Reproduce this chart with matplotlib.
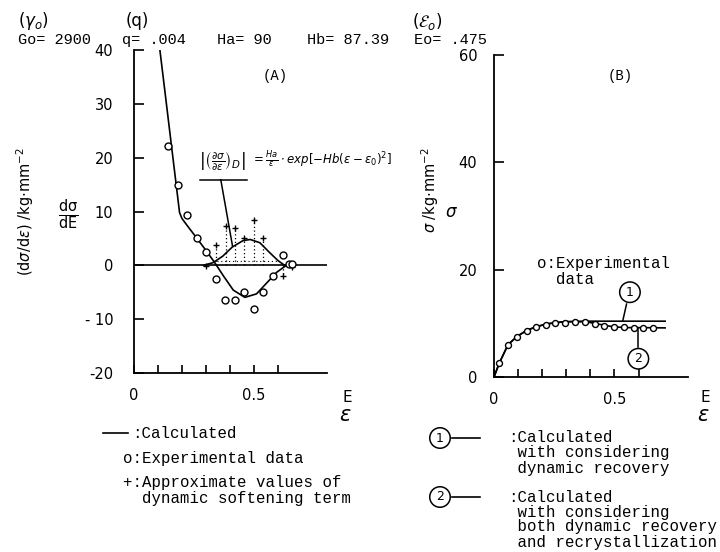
import matplotlib
matplotlib.use('Agg')
import matplotlib.pyplot as plt
from matplotlib.lines import Line2D

# ---------------- Panel A data ----------------
calc_a_x = [0.108, 0.19, 0.20, 0.22, 0.261, 0.303, 0.3375, 0.372, 0.414, 0.4625, 0.511, 0.553, 0.595, 0.629, 0.66]
calc_a_y = [40.0, 9.8, 8.7, 7.5, 5.1, 2.6, 0.45, -1.9, -4.6, -5.95, -5.3, -3.3, -1.3, -0.2, 0.0]

soft_x = [0.29, 0.33, 0.37, 0.41, 0.455, 0.485, 0.525, 0.565, 0.60, 0.625, 0.65]
soft_y = [0.0, 0.5, 1.7, 3.4, 4.6, 4.8, 4.2, 2.4, 0.9, 0.1, 0.0]

exp_a_x = [0.143, 0.182, 0.222, 0.261, 0.300, 0.340, 0.379, 0.421, 0.460, 0.500, 0.539, 0.581, 0.622, 0.645, 0.661]
exp_a_y = [22.2, 15.0, 9.3, 5.0, 2.5, -2.5, -6.4, -6.4, -4.9, -8.2, -5.0, -1.9, 2.0, 0.3, 0.3]

plus_x = [0.300, 0.342, 0.383, 0.421, 0.460, 0.500, 0.539, 0.620, 0.657]
plus_y = [-0.2, 3.7, 7.3, 7.0, 5.1, 8.5, 5.1, -2.0, -0.4]

# ---------------- Panel B data ----------------
curve1_x = [0.0, 0.022, 0.058, 0.094, 0.136, 0.178, 0.22, 0.29, 0.38, 0.50, 0.60, 0.71]
curve1_y = [0.0, 2.6, 6.0, 7.5, 8.7, 9.4, 9.9, 10.3, 10.4, 10.4, 10.4, 10.4]
curve2_x = [0.0, 0.022, 0.058, 0.094, 0.136, 0.178, 0.22, 0.29, 0.38, 0.44, 0.495, 0.55, 0.61, 0.71]
curve2_y = [0.0, 2.6, 6.0, 7.5, 8.7, 9.4, 9.9, 10.3, 10.3, 9.8, 9.35, 9.2, 9.2, 9.15]

exp_b_x = [0.022, 0.058, 0.097, 0.137, 0.176, 0.214, 0.254, 0.296, 0.335, 0.376,
           0.418, 0.456, 0.496, 0.538, 0.579, 0.620, 0.659]
exp_b_y = [2.55, 5.96, 7.4, 8.6, 9.25, 9.68, 10.0, 10.1, 10.2, 10.2,
           9.8, 9.55, 9.37, 9.25, 9.06, 9.06, 9.06]

a_yticks = [-20, -10, 0, 10, 20, 30, 40]
a_yticklabels = ['-20', '- 10', '0', '10', '20', '30', '40']
b_yticks = [0, 20, 40, 60]
b_yticklabels = ['0', '20', '40', '60']
x_ticks = [0, 0.1, 0.2, 0.3, 0.4, 0.5, 0.6]
x_ticklabels = ['0', '', '', '', '', '0.5', '']

W, H = 720, 552
fig = plt.figure(figsize=(7.2, 5.52), dpi=100)
MONO = 'Liberation Mono'
TICKF = 'DejaVu Sans'


def P(x, y):
    return x / W, 1 - y / H


def style(ax, yticks, yticklabels, ylim, ypad):
    for s in ('top', 'right'):
        ax.spines[s].set_visible(False)
    for s in ('left', 'bottom'):
        ax.spines[s].set_linewidth(1.3)
    ax.set_xlim(0, 0.805)
    ax.set_ylim(*ylim)
    ax.set_xticks(x_ticks)
    ax.set_xticklabels(x_ticklabels, fontsize=10.5, family=TICKF)
    ax.set_yticks(yticks)
    ax.set_yticklabels(yticklabels, fontsize=10.5, family=TICKF)
    ax.tick_params(axis='y', direction='in', length=7.5, width=1.2, pad=ypad)
    ax.tick_params(axis='x', direction='in', length=5.5, width=1.2, pad=11)
    ax.patch.set_alpha(0)


# ---------------- Panel A ----------------
axA = fig.add_axes([134 / W, 1 - 373 / H, (327 - 134) / W, (373 - 50) / H])
style(axA, a_yticks, a_yticklabels, (-20, 40), 15)
axA.axhline(0, color='black', lw=1.2)
axA.plot(calc_a_x, calc_a_y, color='black', lw=1.2)
axA.plot(soft_x, soft_y, color='black', lw=1.2)
for px, py in zip(plus_x, plus_y):
    axA.plot([px, px], [0, py], color='black', lw=0.9, ls=(0, (1, 2)))
axA.plot([0.33, 0.60], [0.8, 0.8], color='black', lw=0.8, ls=(0, (1, 2.5)))
axA.plot(plus_x, plus_y, ls='none', marker='+', ms=4.5, mew=1.0, color='black')
axA.plot(exp_a_x, exp_a_y, ls='none', marker='o', ms=5, mfc='white', mec='black', mew=1.0)

# formula and leader
axA.text(0.272, 19.2,
         r'$\left|\left(\frac{\partial\sigma}{\partial\varepsilon}\right)_D\right|$',
         fontsize=10.5, ha='left', va='center', clip_on=False)
axA.text(0.486, 19.6,
         r'$=\frac{Ha}{\varepsilon}\cdot exp[-Hb(\varepsilon-\varepsilon_0)^2]$',
         fontsize=8.5, ha='left', va='center', clip_on=False)
axA.plot([0.275, 0.47], [15.9, 15.9], color='black', lw=1.1, clip_on=False)
axA.plot([0.362, 0.411], [15.9, 3.55], color='black', lw=1.1)

# ---------------- Panel B ----------------
axB = fig.add_axes([494 / W, 1 - 377 / H, (688 - 494) / W, (377 - 55) / H])
style(axB, b_yticks, b_yticklabels, (0, 60), 12)
axB.plot(curve1_x, curve1_y, color='black', lw=1.2)
axB.plot(curve2_x, curve2_y, color='black', lw=1.2)
axB.plot(exp_b_x, exp_b_y, ls='none', marker='o', ms=4.3, mfc='white', mec='black', mew=1.0)

circ = dict(boxstyle='circle,pad=0.3', fc='white', ec='black', lw=1.1)
axB.text(0.564, 15.8, '1', fontsize=9, ha='center', va='center', bbox=circ, family=TICKF)
axB.plot([0.55, 0.534], [13.6, 10.4], color='black', lw=1.1)
axB.text(0.599, 3.4, '2', fontsize=9, ha='center', va='center', bbox=circ, family=TICKF)
axB.plot([0.599, 0.599], [5.6, 9.2], color='black', lw=1.1)

axB.text(0.18, 21.2, 'o:Experimental', fontsize=11.3, family=MONO, ha='left', va='center')
axB.text(0.18, 18.2, '  data', fontsize=11.3, family=MONO, ha='left', va='center')

# ---------------- axis annotations ----------------
fig.text(*P(25, 212), r'(d$\sigma$/d$\varepsilon$) /kg$\cdot$mm$^{-2}$', rotation=90,
         ha='center', va='center', fontsize=10.5, family=TICKF)
fig.text(*P(68, 215), r'$\mathregular{\frac{d\sigma}{dE}}$', ha='center', va='center', fontsize=15)
fig.text(*P(430, 190), r'$\sigma$ /kg$\cdot$mm$^{-2}$', rotation=90,
         ha='center', va='center', fontsize=10.5, family=TICKF)
fig.text(*P(451, 212), r'$\sigma$', ha='center', va='center', fontsize=12)

for ex in (347, 705):
    fig.text(*P(ex, 398), 'E', ha='center', va='center', fontsize=11, family=TICKF)
    fig.text(*P(ex - 2, 415), r'$\varepsilon$', ha='center', va='center', fontsize=15)

# header
fig.text(*P(18, 21), r'($\gamma_o$)', ha='left', va='center', fontsize=12)
fig.text(*P(126, 21), '(q)', ha='left', va='center', fontsize=12)
fig.text(*P(412, 21), r'($\mathcal{E}_o$)', ha='left', va='center', fontsize=12)
fig.text(*P(18, 40), 'Go= 2900', ha='left', va='center', fontsize=11, family=MONO)
fig.text(*P(122, 40), 'q= .004', ha='left', va='center', fontsize=11, family=MONO)
fig.text(*P(217, 40), 'Ha= 90', ha='left', va='center', fontsize=11, family=MONO)
fig.text(*P(307, 40), 'Hb= 87.39', ha='left', va='center', fontsize=11, family=MONO)
fig.text(*P(414, 40), 'Eo= .475', ha='left', va='center', fontsize=11, family=MONO)
fig.text(*P(275, 76), '(A)', ha='center', va='center', fontsize=10, family=MONO)
fig.text(*P(620, 76), '(B)', ha='center', va='center', fontsize=10, family=MONO)

# ---------------- legends ----------------
LF = 11.3
fig.add_artist(Line2D([103 / W, 128 / W], [1 - 433 / H, 1 - 433 / H], color='black', lw=1.2,
                      transform=fig.transFigure))
fig.text(*P(132, 433), ':Calculated', ha='left', va='center', fontsize=LF, family=MONO)
fig.text(*P(123, 458), 'o:Experimental data', ha='left', va='center', fontsize=LF, family=MONO)
fig.text(*P(123, 483), '+:Approximate values of', ha='left', va='center', fontsize=LF, family=MONO)
fig.text(*P(142, 498), 'dynamic softening term', ha='left', va='center', fontsize=LF, family=MONO)

for num, y0, lines in (('1', 438, [':Calculated', ' with considering', ' dynamic recovery']),
                       ('2', 497, [':Calculated', ' with considering',
                                   ' both dynamic recovery', ' and recrystallization'])):
    fig.text(*P(440, y0), num, ha='center', va='center', fontsize=9, family=TICKF, bbox=circ)
    fig.add_artist(Line2D([452 / W, 480 / W], [1 - y0 / H, 1 - y0 / H], color='black', lw=1.2,
                          transform=fig.transFigure))
    for i, t in enumerate(lines):
        fig.text(*P(508, y0 + 15 * i), t, ha='left', va='center', fontsize=LF, family=MONO)

fig.savefig('out.png', dpi=100)
